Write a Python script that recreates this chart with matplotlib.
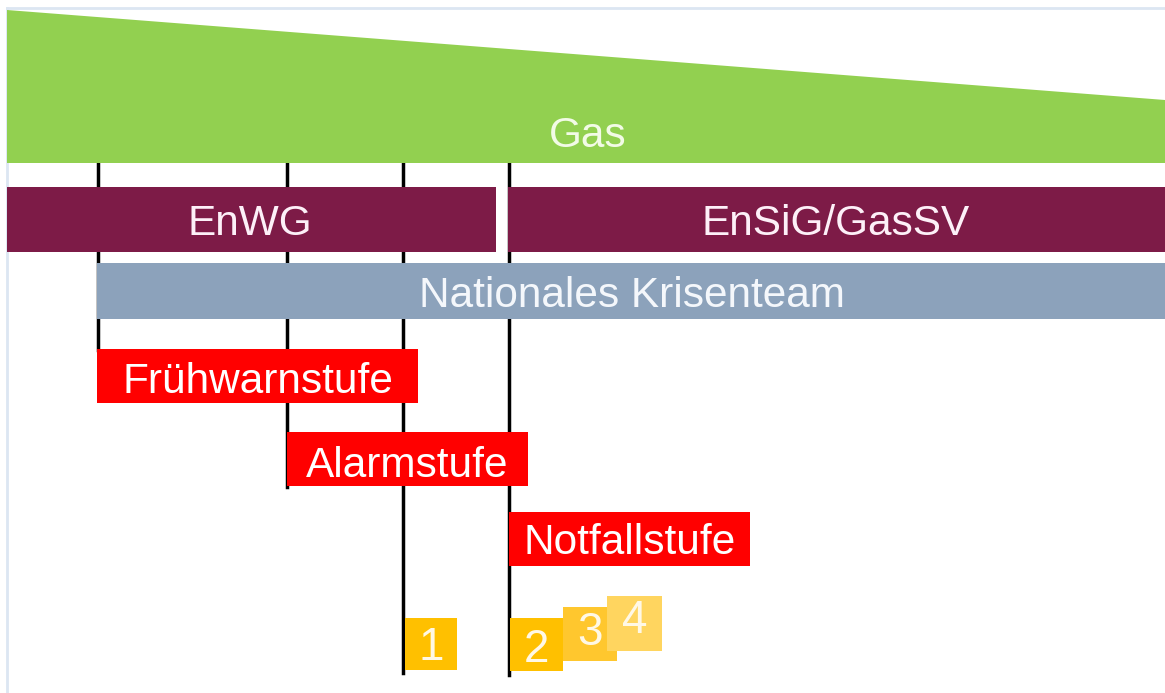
import matplotlib.pyplot as plt
from matplotlib.patches import Polygon, Rectangle

OUT_PATH = "out.png"
W, H = 1165, 693

FONT = "Liberation Sans"
TEXT_SIZE = 30.5

GREEN = "#92D050"
PURPLE = "#7D1B47"
BLUE_GREY = "#8CA2BB"
RED = "#FF0000"
BORDER = "#DCE6F2"

# Gas wedge: top edge falls from left to right
gas_label = "Gas"
gas_x = [7, 1165]
gas_top = [10, 100]
gas_bottom = 163

# legal framework bands
law_labels = ["EnWG", "EnSiG/GasSV"]
law_left = [7, 508]
law_right = [496, 1165]
law_text_x = [250, 836]
law_top, law_bottom = 187, 252

team_label = "Nationales Krisenteam"
team_left, team_right = 97, 1165
team_top, team_bottom = 263, 319

# vertical markers
marker_x = [98, 287, 403, 509]
marker_top = [152, 152, 148, 153]
marker_bottom = [350, 487, 673, 675]

# crisis levels
stage_labels = ["Frühwarnstufe", "Alarmstufe", "Notfallstufe"]
stage_left = [97, 287, 509]
stage_right = [418, 528, 750]
stage_top = [349, 432, 512]
stage_height = 54
stage_baseline = [393, 477, 554]

# numbered steps
step_labels = ["1", "2", "3", "4"]
step_left = [405, 510, 563, 607]
step_top = [618, 618, 607, 596]
step_size = [52, 53, 54, 55]
step_colors = ["#FFC000", "#FFC000", "#FFC72E", "#FFD55F"]
step_baseline = [660, 662, 645, 633]


def add_rect(ax, x0, x1, y0, y1, color, z):
    ax.add_patch(Rectangle((x0, y0), x1 - x0, y1 - y0, facecolor=color,
                           edgecolor="none", zorder=z))


def label(ax, x, y, s, color="white", size=TEXT_SIZE):
    # y is the text baseline in pixel rows
    ax.text(x, y, s, ha="center", va="baseline", fontsize=size, color=color,
            family=FONT, zorder=10)


fig = plt.figure(figsize=(W / 100, H / 100), dpi=100)
ax = fig.add_axes([0, 0, 1, 1])
ax.set_xlim(0, W)
ax.set_ylim(H, 0)
ax.axis("off")

# thin frame on top/left
ax.plot([7, W], [8, 8], color=BORDER, lw=2, zorder=0)
ax.plot([7, 7], [8, H], color=BORDER, lw=2, zorder=0)

# markers go under the bands
for x, t, b in zip(marker_x, marker_top, marker_bottom):
    ax.plot([x, x], [t, b], color="black", lw=2.5, zorder=1)

gas = Polygon([(gas_x[0], gas_top[0]), (gas_x[1], gas_top[1]),
               (gas_x[1], gas_bottom), (gas_x[0], gas_bottom)],
              facecolor=GREEN, edgecolor="none", zorder=2)
ax.add_patch(gas)
label(ax, 588, 147, gas_label, color="#F2FBE6")

for name, x0, x1, tx in zip(law_labels, law_left, law_right, law_text_x):
    add_rect(ax, x0, x1, law_top, law_bottom, PURPLE, 2)
    label(ax, tx, 235, name, color="#FDF0F8")

add_rect(ax, team_left, team_right, team_top, team_bottom, BLUE_GREY, 2)
label(ax, 632, 307, team_label, color="#F4F7FB")

for name, x0, x1, y0, bl in zip(stage_labels, stage_left, stage_right,
                                stage_top, stage_baseline):
    add_rect(ax, x0, x1, y0, y0 + stage_height, RED, 3)
    label(ax, (x0 + x1) / 2, bl, name)

for name, x0, y0, s, c, bl in zip(step_labels, step_left, step_top,
                                  step_size, step_colors, step_baseline):
    add_rect(ax, x0, x0 + s, y0, y0 + s, c, 3)
    label(ax, x0 + s / 2, bl, name, color="#FFF8E6", size=33)

fig.savefig(OUT_PATH, dpi=100, facecolor="white")
